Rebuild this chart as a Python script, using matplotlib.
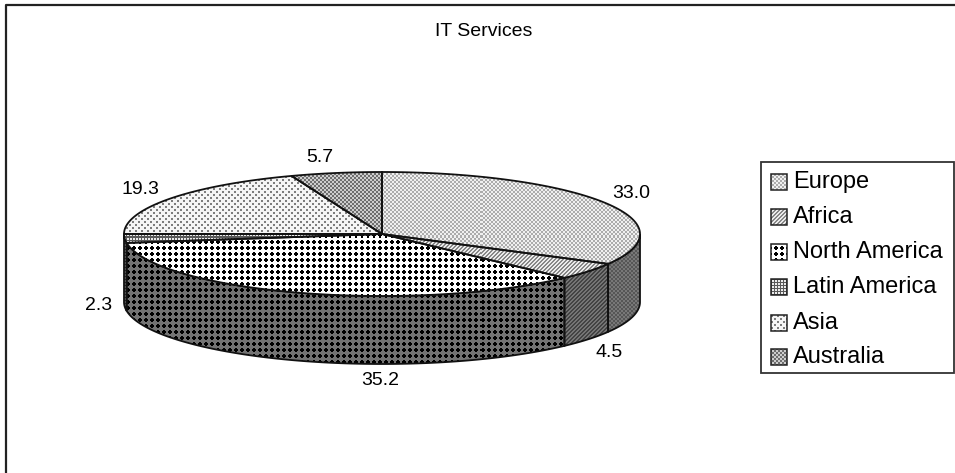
import numpy as np
import matplotlib
matplotlib.use("Agg")
import matplotlib.pyplot as plt
from matplotlib.patches import Polygon, Rectangle

regions = ["Europe", "Africa", "North America", "Latin America", "Asia", "Australia"]
shares = [33.0, 4.5, 35.2, 2.3, 19.3, 5.7]
share_labels = ["33.0", "4.5", "35.2", "2.3", "19.3", "5.7"]
top_patterns = ["fine", "diag", "dots", "grid", "sparse", "dense"]
side_patterns = ["fine_dark", "diag_dark", "dots_dark", "grid_dark", "sparse_dark", "dense_dark"]

W, H = 955, 473
CX, CY, RX, RY = 382, 234, 258, 62
DEPTH = 68

plt.rcParams["font.family"] = ["Liberation Sans", "DejaVu Sans"]


def texture(name):
    # pixel patterns, same idea as the old office fill patterns
    yy, xx = np.mgrid[0:H, 0:W]
    if name.startswith("fine"):
        on = (xx // 2 + yy // 2) % 2 == 0
        lo, hi = 172, 240
    elif name.startswith("diag"):
        on = (xx + yy) % 4 < 2
        lo, hi = 135, 235
    elif name.startswith("dots"):
        px, py = xx % 6, yy % 6
        on = (px < 4) & (py < 4) & ~((px % 3 == 0) & (py % 3 == 0))
        lo, hi = 0, 255
    elif name.startswith("grid"):
        on = (xx % 3 == 0) | (yy % 3 == 0)
        lo, hi = 90, 235
    elif name.startswith("sparse"):
        on = ((xx % 6 < 2) & (yy % 6 < 2)) | (((xx + 3) % 6 < 2) & ((yy + 3) % 6 < 2))
        lo, hi = 125, 245
    else:
        on = (xx // 2 + yy // 2) % 2 == 0
        lo, hi = 110, 205
    img = np.where(on, lo, hi).astype(float)
    if name.endswith("_dark"):
        img = img * 0.5 if not name.startswith("dots") else np.where(on, 0, 115)
    return img


def rim(a0, a1, n=120):
    # angles run clockwise from twelve o'clock
    t = np.radians(np.linspace(a0, a1, n))
    return np.column_stack([CX + RX * np.sin(t), CY + RY * np.cos(t) * -1])


def fill(ax, pts, name, zorder):
    poly = Polygon(pts, closed=True, fc="none", ec="#111111", lw=1.3, zorder=zorder + 0.5)
    ax.add_patch(poly)
    im = ax.imshow(texture(name), cmap="gray", vmin=0, vmax=255, extent=(0, W, H, 0),
                   interpolation="nearest", zorder=zorder, aspect="auto")
    im.set_clip_path(Polygon(pts, closed=True, transform=ax.transData))


fig = plt.figure(figsize=(W / 100, H / 100), dpi=100)
ax = fig.add_axes([0, 0, 1, 1])
ax.set_xlim(0, W)
ax.set_ylim(H, 0)
ax.axis("off")

# outer frame, only top and left fall inside the canvas
ax.plot([6, 6, W], [H, 5, 5], color="#222222", lw=1.6, zorder=1)

edges = np.concatenate([[0], np.cumsum(shares)]) / sum(shares) * 360

# side wall: only the front half of the disc shows
for i in range(len(shares)):
    a0, a1 = max(edges[i], 90), min(edges[i + 1], 270)
    if a1 <= a0:
        continue
    arc = rim(a0, a1)
    wall = np.vstack([arc, arc[::-1] + [0, DEPTH]])
    fill(ax, wall, side_patterns[i], 2 + i * 0.01)

# top face
for i in range(len(shares)):
    arc = rim(edges[i], edges[i + 1])
    fill(ax, np.vstack([[CX, CY], arc]), top_patterns[i], 3 + i * 0.01)

ax.set_xlim(0, W)
ax.set_ylim(H, 0)

label_pos = [(631, 193), (609, 352), (380, 380), (99, 305), (140, 189), (320, 157)]
for txt, (x, y) in zip(share_labels, label_pos):
    ax.text(x, y, txt, fontsize=14, ha="center", va="center", color="black", zorder=6)

ax.text(484, 31, "IT Services", fontsize=14, ha="center", va="center", zorder=6)

# legend box
ax.add_patch(Rectangle((761, 162), 193, 211, fc="white", ec="#333333", lw=1.3, zorder=4))
legend_y = [182, 217, 252, 287, 323, 357]
for name, pat, y in zip(regions, top_patterns, legend_y):
    box = Rectangle((771, y - 8), 16, 16, transform=ax.transData)
    im = ax.imshow(texture(pat), cmap="gray", vmin=0, vmax=255, extent=(0, W, H, 0),
                   interpolation="nearest", zorder=5, aspect="auto")
    im.set_clip_path(box)
    ax.add_patch(Rectangle((771, y - 8), 16, 16, fc="none", ec="#222222", lw=1.1, zorder=5.5))
    ax.text(793, y, name, fontsize=17, ha="left", va="center", zorder=6)

ax.set_xlim(0, W)
ax.set_ylim(H, 0)
fig.savefig("out.png", dpi=100)
